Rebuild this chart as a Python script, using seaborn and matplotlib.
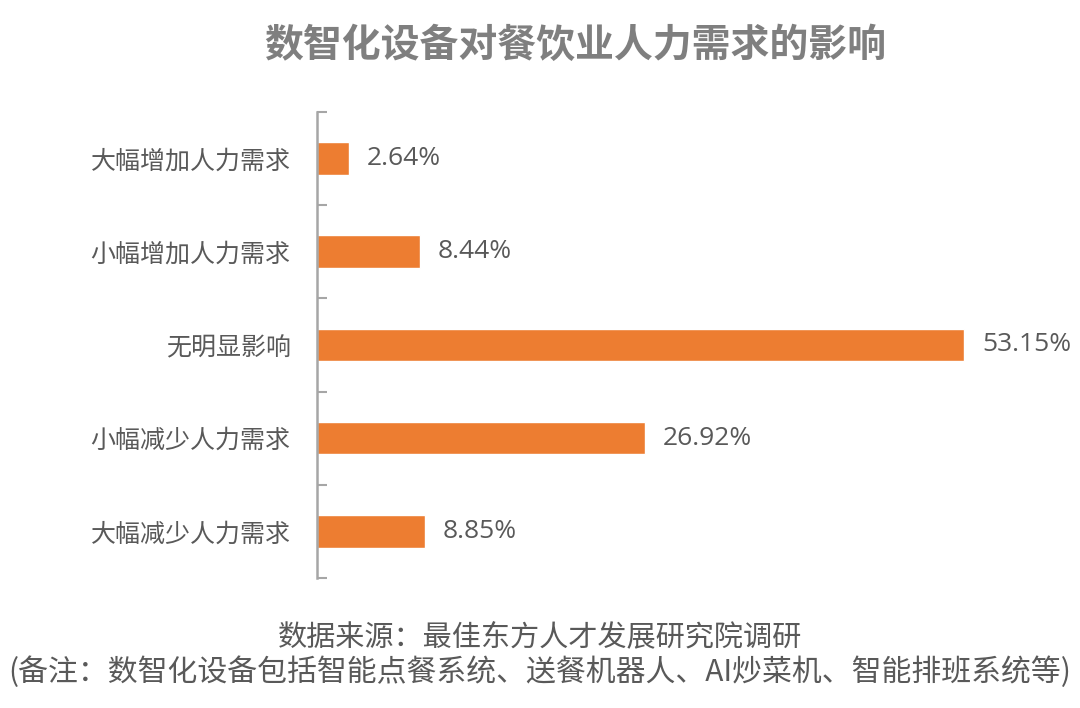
import matplotlib.pyplot as plt
import seaborn as sns
import pandas as pd
import numpy as np

sns.set_style("white")
plt.rcParams['font.family'] = ['Noto Sans CJK SC', 'DejaVu Sans']

categories = ['大幅增加人力需求', '小幅增加人力需求', '无明显影响', '小幅减少人力需求', '大幅减少人力需求']
shares = [2.64, 8.44, 53.15, 26.92, 8.85]

title = '数智化设备对餐饮业人力需求的影响'
source = '数据来源：最佳东方人才发展研究院调研'
note = '(备注：数智化设备包括智能点餐系统、送餐机器人、AI炒菜机、智能排班系统等)'

df = pd.DataFrame({'category': categories, 'share': shares})

text_color = '#595959'
bar_color = '#ED7D31'

fig = plt.figure(figsize=(10.8, 7.08), dpi=100)
ax = fig.add_axes([0.2935, 0.1836, 0.6765, 0.6584])

sns.barplot(
    data=df,
    x='share',
    y='category',
    color=bar_color,
    width=0.35,
    saturation=1,
    ax=ax
)

for i, v in enumerate(shares):
    ax.text(v + 1.45, i, f'{v:.2f}%', va='center', ha='left',
            fontsize=19, color=text_color, family=['Open Sans', 'DejaVu Sans'])

ax.set_xlim(0, 60)
ax.set_ylim(len(categories) - 0.5, -0.5)
ax.set_xlabel('')
ax.set_ylabel('')
ax.set_xticks([])

for side in ['top', 'right', 'bottom']:
    ax.spines[side].set_visible(False)
ax.spines['left'].set_color('#a6a6a6')
ax.spines['left'].set_linewidth(1.8)

ax.set_yticks(np.arange(len(categories)))
ax.set_yticklabels(categories, fontsize=18, color=text_color)
ax.tick_params(axis='y', which='major', length=0, pad=19)
ax.set_yticks(np.arange(len(categories) + 1) - 0.5, minor=True)
ax.tick_params(axis='y', which='minor', left=True, direction='in', length=7,
               width=1.5, color='#a6a6a6')

fig.text(0.533, 0.936, title, ha='center', va='center', fontsize=28,
         fontweight='bold', color='#7f7f7f')
fig.text(0.5, 0.100, source, ha='center', va='center', fontsize=21, color=text_color)
fig.text(0.5, 0.051, note, ha='center', va='center', fontsize=21.5, color=text_color)

plt.savefig('out.png', dpi=100)
